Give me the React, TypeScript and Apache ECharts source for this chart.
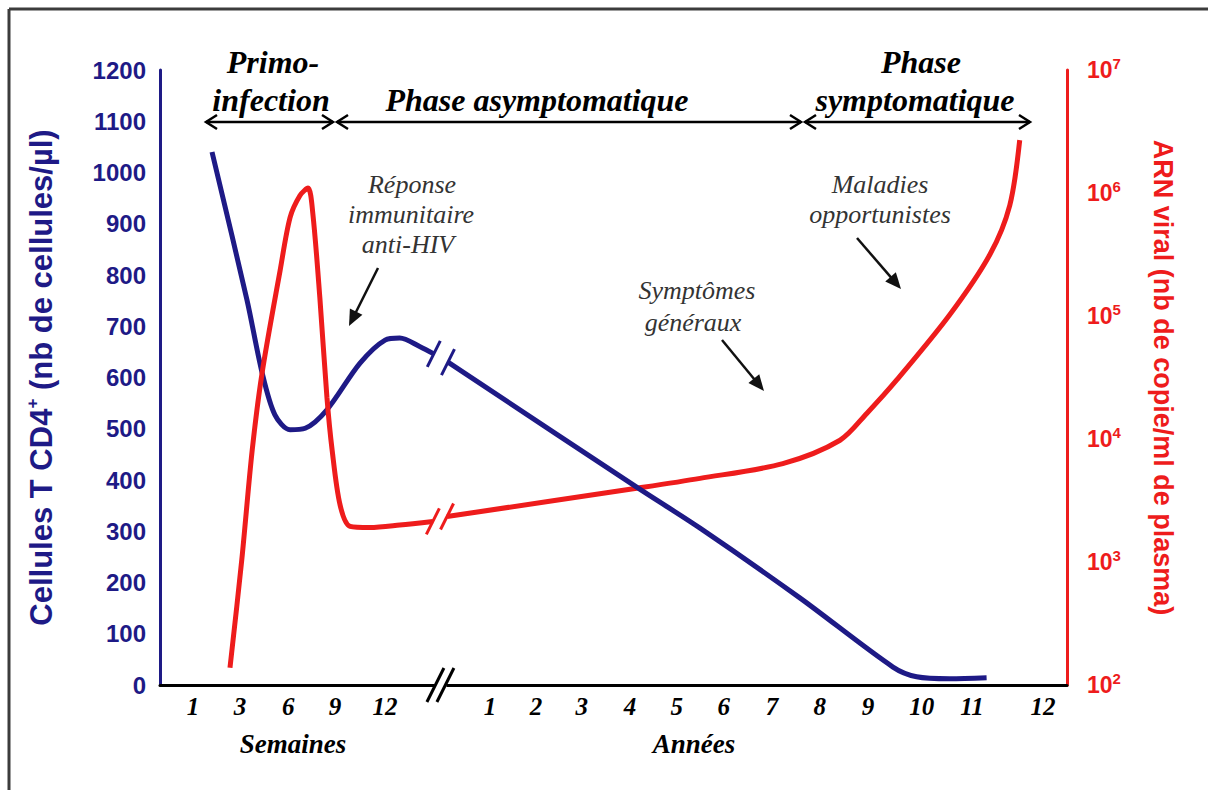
import React, { useEffect, useRef } from "react";
import * as echarts from "echarts";

// ---- Data (x in schematic time units, y = CD4 cells/µl or viral RNA copies/ml) ----
const cd4Early: number[][] = [
  [1.10, 1040], [1.84, 751], [2.16, 609], [2.43, 527], [2.75, 498], [3.07, 501],
  [3.53, 537], [4.23, 628], [4.76, 673], [5.07, 677], [5.50, 660], [5.79, 646],
];
const cd4Late: number[][] = [
  [6.09, 630], [10.08, 386], [11.42, 306], [13.53, 170], [15.50, 35],
  [16.00, 16], [16.70, 12], [17.48, 14],
];
const rnaEarly: number[][] = [
  [1.48, 138], [1.73, 1047], [1.95, 8128], [2.16, 34674], [2.54, 234423],
  [2.75, 630957], [2.96, 954993], [3.13, 1096478], [3.23, 691831], [3.38, 141254],
  [3.53, 21878], [3.64, 8128], [3.81, 2884], [4.02, 1950], [4.44, 1905],
  [5.07, 1995], [5.77, 2138],
];
const rnaLate: number[][] = [
  [6.07, 2344], [10.08, 3981], [11.42, 4786], [13.17, 6310], [14.38, 9772],
  [14.95, 16218], [15.58, 30200], [16.70, 102329], [17.55, 316228],
  [17.97, 794328], [18.18, 2691535],
];
const xTickPos = [0.70, 1.69, 2.71, 3.70, 4.76, 6.98, 7.95, 8.92, 9.94, 10.93, 11.92, 12.94, 13.95, 14.97, 16.11, 17.17, 18.67];
const xTickLabels = ["1", "3", "6", "9", "12", "1", "2", "3", "4", "5", "6", "7", "8", "9", "10", "11", "12"];
const xBreak = 5.93;
const xMax = 19.18;

const NAVY = "#1e1a86";
const RED = "#ee1c1c";
const SERIF = '"Liberation Serif", "Times New Roman", serif';
const SANS = '"Liberation Sans", Arial, sans-serif';

function arrowHead(x1: number, y1: number, x2: number, y2: number, len = 15, half = 6) {
  const dx = x2 - x1, dy = y2 - y1;
  const L = Math.hypot(dx, dy);
  const ux = dx / L, uy = dy / L;
  const bx = x2 - ux * len, by = y2 - uy * len;
  return [[x2, y2], [bx - uy * half, by + ux * half], [bx + uy * half, by - ux * half]];
}

function txt(text: string, x: number, y: number, size: number, opts: any = {}) {
  return {
    type: "text", x, y, z: 100,
    style: {
      text, fontSize: size, fontFamily: opts.family || SERIF,
      fontWeight: opts.weight || "normal", fontStyle: opts.style || "normal",
      fill: opts.fill || "#000",
      align: "center", verticalAlign: "middle",
      textAlign: "center", textVerticalAlign: "middle",
    },
  };
}

export default function App() {
  const ref = useRef<HTMLDivElement>(null);
  useEffect(() => {
    const chart = echarts.init(ref.current!, null, { renderer: "svg" });
    const lineBase = { type: "line", showSymbol: false, symbol: "none", smooth: 0.3, silent: true };
    chart.setOption({
      animation: false,
      backgroundColor: "#fff",
      grid: { left: 160, right: 141, top: 70, bottom: 105, containLabel: false },
      xAxis: {
        type: "value", min: 0, max: xMax,
        axisLine: { show: true, lineStyle: { color: "#000", width: 3 } },
        axisTick: { show: false },
        splitLine: { show: false },
        axisLabel: {
          customValues: xTickPos,
          margin: 9,
          formatter: (v: number) => {
            const i = xTickPos.findIndex((p) => Math.abs(p - v) < 1e-6);
            return i >= 0 ? xTickLabels[i] : "";
          },
          fontFamily: SERIF, fontWeight: "bold", fontStyle: "italic", fontSize: 25, color: "#000",
        },
      },
      yAxis: [
        {
          type: "value", min: 0, max: 1200, interval: 100, position: "left",
          axisLine: { show: true, lineStyle: { color: NAVY, width: 3 } },
          axisTick: { show: false },
          splitLine: { show: false },
          axisLabel: { fontFamily: SANS, fontWeight: "bold", fontSize: 24, color: NAVY, margin: 14, formatter: (v: number) => String(v) },
          name: "Cellules T CD4{sup|+} (nb de cellules/µl)",
          nameLocation: "middle", nameRotate: 90, nameGap: 102,
          nameTextStyle: {
            fontFamily: SANS, fontWeight: "bold", fontSize: 31, color: NAVY,
            rich: { sup: { fontFamily: SANS, fontWeight: "bold", fontSize: 17, color: NAVY, verticalAlign: "top", lineHeight: 34 } },
          },
        },
        {
          type: "log", logBase: 10, min: 100, max: 1e7, position: "right",
          axisLine: { show: true, lineStyle: { color: RED, width: 3 } },
          axisTick: { show: false },
          splitLine: { show: false },
          axisLabel: {
            margin: 20,
            formatter: (v: number) => `{b|10}{s|${Math.round(Math.log10(v))}}`,
            rich: {
              b: { fontFamily: SANS, fontWeight: "bold", fontSize: 23, color: RED, lineHeight: 28 },
              s: { fontFamily: SANS, fontWeight: "bold", fontSize: 15, color: RED, verticalAlign: "top", lineHeight: 28 },
            },
          },
          name: "ARN viral (nb de copie/ml de plasma)",
          nameLocation: "middle", nameRotate: -90, nameGap: 82,
          nameTextStyle: { fontFamily: SANS, fontWeight: "bold", fontSize: 27, color: RED },
        },
      ],
      series: [
        { ...lineBase, name: "cd4a", data: cd4Early, yAxisIndex: 0, lineStyle: { color: NAVY, width: 5 }, z: 3 },
        { ...lineBase, name: "rnaa", data: rnaEarly, yAxisIndex: 1, lineStyle: { color: RED, width: 5 }, z: 4 },
        { ...lineBase, name: "rnab", data: rnaLate, yAxisIndex: 1, lineStyle: { color: RED, width: 5 }, z: 3 },
        { ...lineBase, name: "cd4b", data: cd4Late, yAxisIndex: 0, lineStyle: { color: NAVY, width: 5 }, z: 4 },
      ],
    });

    const slash = (cx: number, cy: number, color: string, h = 13) => ({
      type: "line", z: 100,
      shape: { x1: cx + h * 0.5, y1: cy - h, x2: cx - h * 0.5, y2: cy + h },
      style: { stroke: color, lineWidth: 3 },
    });
    const p = (si: number, pt: number[]) => chart.convertToPixel({ seriesIndex: si }, pt) as number[];
    const b1 = p(0, cd4Early[cd4Early.length - 1]);
    const b2 = p(3, cd4Late[0]);
    const r1 = p(1, rnaEarly[rnaEarly.length - 1]);
    const r2 = p(2, rnaLate[0]);
    const bx = chart.convertToPixel({ xAxisIndex: 0 }, xBreak) as number;
    const by = chart.convertToPixel({ yAxisIndex: 0 }, 0) as number;

    const arrows: any[] = [];
    const annArrow = (x1: number, y1: number, x2: number, y2: number) => {
      const h = arrowHead(x1, y1, x2, y2, 16, 7);
      const L = Math.hypot(x2 - x1, y2 - y1);
      const ex = x2 - ((x2 - x1) / L) * 12, ey = y2 - ((y2 - y1) / L) * 12;
      arrows.push({ type: "line", z: 100, shape: { x1, y1, x2: ex, y2: ey }, style: { stroke: "#111", lineWidth: 2.5 } });
      arrows.push({ type: "polygon", z: 100, shape: { points: h }, style: { fill: "#111" } });
    };
    annArrow(378, 268, 349, 326);
    annArrow(722, 340, 764, 391);
    annArrow(857, 238, 901, 289);

    const phaseY = 122;
    const phaseSegs = [[206, 333], [337, 801], [805, 1030]];
    phaseSegs.forEach(([a, b]) => {
      arrows.push({ type: "line", z: 100, shape: { x1: a, y1: phaseY, x2: b, y2: phaseY }, style: { stroke: "#000", lineWidth: 2.5 } });
      arrows.push({ type: "polyline", z: 100, shape: { points: [[a + 11, phaseY - 7], [a, phaseY], [a + 11, phaseY + 7]] }, style: { stroke: "#000", lineWidth: 2.5, fill: null } });
      arrows.push({ type: "polyline", z: 100, shape: { points: [[b - 11, phaseY - 7], [b, phaseY], [b - 11, phaseY + 7]] }, style: { stroke: "#000", lineWidth: 2.5, fill: null } });
    });

    chart.setOption({
      graphic: [
        { type: "line", z: 100, shape: { x1: 9, y1: 9, x2: 9, y2: 790 }, style: { stroke: "#3c3c3c", lineWidth: 3 } },
        { type: "line", z: 100, shape: { x1: 9, y1: 9, x2: 1208, y2: 9 }, style: { stroke: "#3c3c3c", lineWidth: 3 } },
        // axis break
        { type: "rect", z: 99, shape: { x: bx - 6, y: by - 4, width: 12, height: 8 }, style: { fill: "#fff" } },
        slash(bx - 5, by, "#000", 17),
        slash(bx + 5, by, "#000", 17),
        slash(b1[0], b1[1], NAVY, 13),
        slash(b2[0], b2[1], NAVY, 13),
        slash(r1[0], r1[1], RED, 13),
        slash(r2[0], r2[1], RED, 13),
        // phases
        txt("Primo-", 273, 62, 32, { weight: "bold", style: "italic" }),
        txt("infection", 271, 100, 32, { weight: "bold", style: "italic" }),
        txt("Phase asymptomatique", 537, 100, 32, { weight: "bold", style: "italic" }),
        txt("Phase", 921, 62, 32, { weight: "bold", style: "italic" }),
        txt("symptomatique", 915, 100, 32, { weight: "bold", style: "italic" }),
        // annotations
        txt("Réponse", 412, 184, 26, { style: "italic", fill: "#333" }),
        txt("immunitaire", 411, 214, 26, { style: "italic", fill: "#333" }),
        txt("anti-HIV", 408, 244, 26, { style: "italic", fill: "#333" }),
        txt("Symptômes", 697, 290, 26, { style: "italic", fill: "#333" }),
        txt("généraux", 693, 322, 26, { style: "italic", fill: "#333" }),
        txt("Maladies", 880, 184, 26, { style: "italic", fill: "#333" }),
        txt("opportunistes", 880, 214, 26, { style: "italic", fill: "#333" }),
        // axis titles
        txt("Semaines", 293, 744, 27, { weight: "bold", style: "italic" }),
        txt("Années", 694, 744, 27, { weight: "bold", style: "italic" }),
        ...arrows,
      ],
    });
    return () => chart.dispose();
  }, []);
  return <div ref={ref} style={{ position: "fixed", left: 0, top: 0, width: 1208, height: 790, background: "#fff" }} />;
}
